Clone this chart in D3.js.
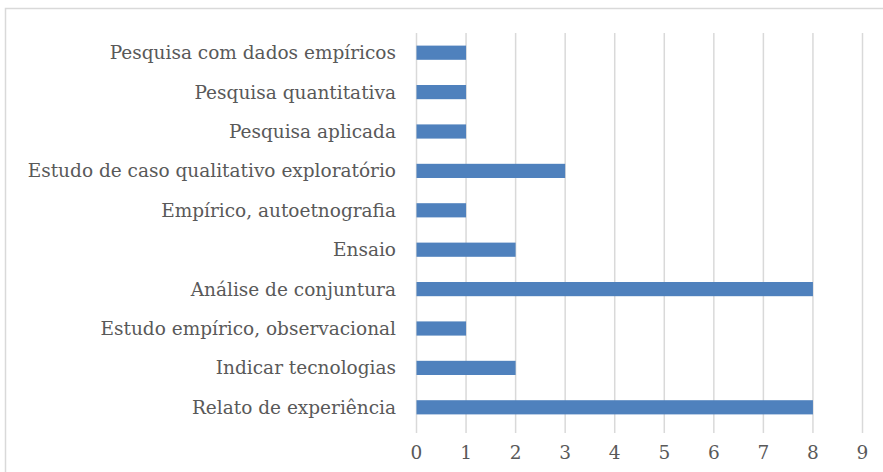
<!DOCTYPE html>
<html><head><meta charset="utf-8">
<script src="https://cdn.jsdelivr.net/npm/d3@7"></script>
<style>body{margin:0;background:#fff}svg{display:block}</style>
</head><body>
<script>
const categories = ["Pesquisa com dados empíricos","Pesquisa quantitativa","Pesquisa aplicada","Estudo de caso qualitativo exploratório","Empírico, autoetnografia","Ensaio","Análise de conjuntura","Estudo empírico, observacional","Indicar tecnologias","Relato de experiência"];
const values = [1,1,1,3,1,2,8,1,2,8];
const xTicks = [0,1,2,3,4,5,6,7,8,9];

const W=883,H=472;
const svg=d3.select("body").append("svg").attr("width",W).attr("height",H);
svg.append("rect").attr("x",5.5).attr("y",8.5).attr("width",W).attr("height",H).attr("fill","#fff").attr("stroke","#d9d9d9").attr("stroke-width",1.5);
const x=d3.scaleLinear().domain([0,9]).range([416.5,862.5]);
const y=d3.scaleBand().domain(categories).range([33,427]).paddingInner(0.64).paddingOuter(0.32);
const font="'DejaVu Serif', serif";
const fs=18.5;
svg.append("g").selectAll("line").data(xTicks).join("line")
  .attr("x1",d=>x(d)).attr("x2",d=>x(d)).attr("y1",33).attr("y2",433)
  .attr("stroke","#d9d9d9").attr("stroke-width",1.5);
svg.append("g").selectAll("rect").data(categories).join("rect")
  .attr("x",x(0)).attr("y",d=>y(d)).attr("height",y.bandwidth())
  .attr("width",(d,i)=>x(values[i])-x(0)).attr("fill","#4f81bd");
svg.append("g").selectAll("text").data(categories).join("text")
  .attr("x",396).attr("y",d=>y(d)+y.bandwidth()/2).attr("dy","0.35em")
  .attr("text-anchor","end").attr("font-family",font).attr("font-size",fs).attr("fill","#595959").text(d=>d);
svg.append("g").selectAll("text").data(xTicks).join("text")
  .attr("x",d=>x(d)).attr("y",459).attr("text-anchor","middle")
  .attr("font-family",font).attr("font-size",fs).attr("fill","#595959").text(d=>d);
</script>
</body></html>
